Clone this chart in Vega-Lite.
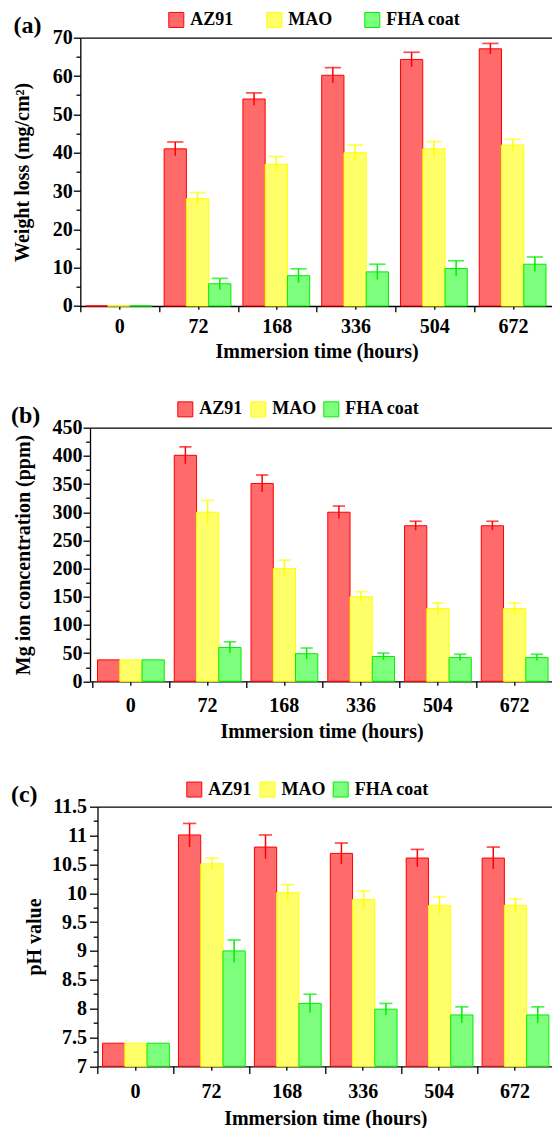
{
  "$schema": "https://vega.github.io/schema/vega-lite/v6.json",
  "padding": {"left": 10.3, "top": 10.7, "right": 0, "bottom": 0},
  "spacing": 38,
  "background": "white",
  "datasets": {
    "a": [
      {"time": 0, "series": "AZ91", "value": 0, "lo": null, "hi": null},
      {"time": 0, "series": "MAO", "value": 0, "lo": null, "hi": null},
      {"time": 0, "series": "FHA coat", "value": 0, "lo": null, "hi": null},
      {"time": 72, "series": "AZ91", "value": 41, "lo": 39.2, "hi": 42.8},
      {"time": 72, "series": "MAO", "value": 28, "lo": 26.4, "hi": 29.6},
      {"time": 72, "series": "FHA coat", "value": 5.8, "lo": 4.3, "hi": 7.2},
      {"time": 168, "series": "AZ91", "value": 54, "lo": 52.4, "hi": 55.6},
      {"time": 168, "series": "MAO", "value": 37, "lo": 35, "hi": 39},
      {"time": 168, "series": "FHA coat", "value": 7.9, "lo": 6.1, "hi": 9.7},
      {"time": 336, "series": "AZ91", "value": 60.2, "lo": 58.2, "hi": 62.2},
      {"time": 336, "series": "MAO", "value": 40, "lo": 38, "hi": 42},
      {"time": 336, "series": "FHA coat", "value": 8.9, "lo": 6.9, "hi": 10.9},
      {"time": 504, "series": "AZ91", "value": 64.3, "lo": 62.4, "hi": 66.2},
      {"time": 504, "series": "MAO", "value": 41, "lo": 39.1, "hi": 42.9},
      {"time": 504, "series": "FHA coat", "value": 9.8, "lo": 7.8, "hi": 11.8},
      {"time": 672, "series": "AZ91", "value": 67.1, "lo": 65.7, "hi": 68.5},
      {"time": 672, "series": "MAO", "value": 42, "lo": 40.5, "hi": 43.5},
      {"time": 672, "series": "FHA coat", "value": 10.9, "lo": 9, "hi": 12.8}
    ],
    "b": [
      {"time": 0, "series": "AZ91", "value": 38, "lo": null, "hi": null},
      {"time": 0, "series": "MAO", "value": 38, "lo": null, "hi": null},
      {"time": 0, "series": "FHA coat", "value": 38, "lo": null, "hi": null},
      {"time": 72, "series": "AZ91", "value": 401, "lo": 386, "hi": 416},
      {"time": 72, "series": "MAO", "value": 300, "lo": 280, "hi": 321},
      {"time": 72, "series": "FHA coat", "value": 60, "lo": 50, "hi": 70},
      {"time": 168, "series": "AZ91", "value": 351, "lo": 336, "hi": 366},
      {"time": 168, "series": "MAO", "value": 200, "lo": 185, "hi": 215},
      {"time": 168, "series": "FHA coat", "value": 49, "lo": 39, "hi": 59},
      {"time": 336, "series": "AZ91", "value": 300, "lo": 289, "hi": 311},
      {"time": 336, "series": "MAO", "value": 150, "lo": 142, "hi": 159},
      {"time": 336, "series": "FHA coat", "value": 44, "lo": 38, "hi": 50},
      {"time": 504, "series": "AZ91", "value": 276, "lo": 268, "hi": 284},
      {"time": 504, "series": "MAO", "value": 129, "lo": 118, "hi": 139},
      {"time": 504, "series": "FHA coat", "value": 42, "lo": 37, "hi": 48},
      {"time": 672, "series": "AZ91", "value": 276, "lo": 268, "hi": 284},
      {"time": 672, "series": "MAO", "value": 129, "lo": 118, "hi": 139},
      {"time": 672, "series": "FHA coat", "value": 42, "lo": 37, "hi": 48}
    ],
    "c": [
      {"time": 0, "series": "AZ91", "value": 7.4, "lo": null, "hi": null},
      {"time": 0, "series": "MAO", "value": 7.4, "lo": null, "hi": null},
      {"time": 0, "series": "FHA coat", "value": 7.4, "lo": null, "hi": null},
      {"time": 72, "series": "AZ91", "value": 11.01, "lo": 10.8, "hi": 11.21},
      {"time": 72, "series": "MAO", "value": 10.51, "lo": 10.41, "hi": 10.61},
      {"time": 72, "series": "FHA coat", "value": 9.0, "lo": 8.8, "hi": 9.19},
      {"time": 168, "series": "AZ91", "value": 10.8, "lo": 10.6, "hi": 11.01},
      {"time": 168, "series": "MAO", "value": 10.01, "lo": 9.87, "hi": 10.15},
      {"time": 168, "series": "FHA coat", "value": 8.09, "lo": 7.93, "hi": 8.25},
      {"time": 336, "series": "AZ91", "value": 10.69, "lo": 10.51, "hi": 10.87},
      {"time": 336, "series": "MAO", "value": 9.89, "lo": 9.74, "hi": 10.04},
      {"time": 336, "series": "FHA coat", "value": 7.99, "lo": 7.89, "hi": 8.09},
      {"time": 504, "series": "AZ91", "value": 10.61, "lo": 10.46, "hi": 10.76},
      {"time": 504, "series": "MAO", "value": 9.79, "lo": 9.64, "hi": 9.94},
      {"time": 504, "series": "FHA coat", "value": 7.89, "lo": 7.75, "hi": 8.03},
      {"time": 672, "series": "AZ91", "value": 10.61, "lo": 10.42, "hi": 10.8},
      {"time": 672, "series": "MAO", "value": 9.79, "lo": 9.68, "hi": 9.9},
      {"time": 672, "series": "FHA coat", "value": 7.89, "lo": 7.75, "hi": 8.03}
    ]
  },
  "vconcat": [
    {
      "width": 472.7,
      "height": 268.3,
      "view": {"stroke": null},
      "title": {"text": "(a)", "offset": -27.3, "dx": 0.7},
      "data": {"name": "a"},
      "layer": [
        {
          "mark": {"type": "bar", "strokeWidth": 1},
          "encoding": {
            "x": {"field": "time", "type": "ordinal", "scale": {"paddingInner": 0, "paddingOuter": 0}, "axis": {"tickBand": "center", "tickSize": 3.3, "labelPadding": 7, "labelAngle": 0, "title": "Immersion time (hours)", "titlePadding": 5}},
            "xOffset": {"field": "series", "type": "nominal", "sort": ["AZ91", "MAO", "FHA coat"], "scale": {"domain": ["AZ91", "MAO", "FHA coat"], "paddingInner": 0, "paddingOuter": 0.27, "align": 0.42}},
            "y": {"field": "value", "type": "quantitative", "title": "Weight loss (mg/cm²)", "scale": {"domain": [0, 70], "nice": false}, "axis": {"values": [0, 5, 10, 15, 20, 25, 30, 35, 40, 45, 50, 55, 60, 65, 70], "labelOverlap": false, "labelExpr": "datum.value % 10 === 0 ? '' + datum.value : ''", "tickSize": {"condition": {"test": "datum.value % 10 === 0", "value": 7}, "value": 4.3}, "labelPadding": 1, "titlePadding": 19.6}},
            "fill": {"field": "series", "type": "nominal", "scale": {"domain": ["AZ91", "MAO", "FHA coat"], "range": ["#ff6a6a", "#ffff6a", "#7dff7d"]}, "legend": {"title": null, "legendX": 87, "legendY": -27, "columnPadding": 30}},
            "stroke": {"field": "series", "type": "nominal", "scale": {"domain": ["AZ91", "MAO", "FHA coat"], "range": ["#ff0000", "#ffff00", "#00ee00"]}, "legend": {"title": null, "legendX": 87, "legendY": -27, "columnPadding": 30}}
          }
        },
        {
          "mark": {"type": "rule", "strokeWidth": 1.5},
          "encoding": {
            "x": {"field": "time", "type": "ordinal", "scale": {"paddingInner": 0, "paddingOuter": 0}, "axis": {"orient": "bottom", "tickBand": "extent", "tickSize": 5.7, "labels": false, "title": null, "domain": false}},
            "xOffset": {"field": "series", "type": "nominal", "sort": ["AZ91", "MAO", "FHA coat"], "scale": {"domain": ["AZ91", "MAO", "FHA coat"], "paddingInner": 0, "paddingOuter": 0.27, "align": 0.42}},
            "y": {"field": "lo", "type": "quantitative", "title": "Weight loss (mg/cm²)", "axis": {"values": [0, 5, 10, 15, 20, 25, 30, 35, 40, 45, 50, 55, 60, 65, 70], "labelOverlap": false, "labelExpr": "datum.value % 10 === 0 ? '' + datum.value : ''", "tickSize": {"condition": {"test": "datum.value % 10 === 0", "value": 7}, "value": 4.3}, "labelPadding": 1, "titlePadding": 19.6}},
            "y2": {"field": "hi"},
            "stroke": {"field": "series", "type": "nominal", "scale": {"domain": ["AZ91", "MAO", "FHA coat"], "range": ["#ff0000", "#ffff00", "#00ee00"]}, "legend": {"title": null, "legendX": 87, "legendY": -27, "columnPadding": 30}}
          }
        },
        {
          "mark": {"type": "tick", "size": 15, "thickness": 0.5, "filled": false, "strokeWidth": 1.2},
          "encoding": {
            "x": {"field": "time", "type": "ordinal", "scale": {"paddingInner": 0, "paddingOuter": 0}, "axis": {"orient": "top", "ticks": false, "labels": false, "title": null, "domain": true}},
            "xOffset": {"field": "series", "type": "nominal", "sort": ["AZ91", "MAO", "FHA coat"], "scale": {"domain": ["AZ91", "MAO", "FHA coat"], "paddingInner": 0, "paddingOuter": 0.27, "align": 0.42}},
            "y": {"field": "hi", "type": "quantitative", "title": "Weight loss (mg/cm²)", "axis": {"values": [0, 5, 10, 15, 20, 25, 30, 35, 40, 45, 50, 55, 60, 65, 70], "labelOverlap": false, "labelExpr": "datum.value % 10 === 0 ? '' + datum.value : ''", "tickSize": {"condition": {"test": "datum.value % 10 === 0", "value": 7}, "value": 4.3}, "labelPadding": 1, "titlePadding": 19.6}},
            "stroke": {"field": "series", "type": "nominal", "scale": {"domain": ["AZ91", "MAO", "FHA coat"], "range": ["#ff0000", "#ffff00", "#00ee00"]}, "legend": {"title": null, "legendX": 87, "legendY": -27, "columnPadding": 30}}
          }
        }
      ],
      "resolve": {"axis": {"x": "independent"}}
    },
    {
      "width": 472.7,
      "height": 253.6,
      "view": {"stroke": null},
      "title": {"text": "(b)", "offset": -27.6, "dx": -2.2},
      "data": {"name": "b"},
      "layer": [
        {
          "mark": {"type": "bar", "strokeWidth": 1},
          "encoding": {
            "x": {"field": "time", "type": "ordinal", "scale": {"range": [9.7, 472.7], "paddingInner": 0, "paddingOuter": 0.016, "align": 1}, "axis": {"tickBand": "center", "tickSize": 4, "labelPadding": 10, "labelAngle": 0, "title": "Immersion time (hours)", "titlePadding": 6}},
            "xOffset": {"field": "series", "type": "nominal", "sort": ["AZ91", "MAO", "FHA coat"], "scale": {"domain": ["AZ91", "MAO", "FHA coat"], "paddingInner": 0, "paddingOuter": 0.225, "align": 0.42}},
            "y": {"field": "value", "type": "quantitative", "title": "Mg ion concentration (ppm)", "scale": {"domain": [0, 450], "nice": false}, "axis": {"offset": -9.7, "values": [0, 25, 50, 75, 100, 125, 150, 175, 200, 225, 250, 275, 300, 325, 350, 375, 400, 425, 450], "labelOverlap": false, "labelExpr": "datum.value % 50 === 0 ? '' + datum.value : ''", "tickSize": {"condition": {"test": "datum.value % 50 === 0", "value": 7}, "value": 4.3}, "labelPadding": 1, "titlePadding": 18.9}},
            "fill": {"field": "series", "type": "nominal", "scale": {"domain": ["AZ91", "MAO", "FHA coat"], "range": ["#ff6a6a", "#ffff6a", "#7dff7d"]}, "legend": {"title": null, "legendX": 96, "legendY": -27.6, "columnPadding": 5}},
            "stroke": {"field": "series", "type": "nominal", "scale": {"domain": ["AZ91", "MAO", "FHA coat"], "range": ["#ff0000", "#ffff00", "#00ee00"]}, "legend": {"title": null, "legendX": 96, "legendY": -27.6, "columnPadding": 5}}
          }
        },
        {
          "mark": {"type": "rule", "strokeWidth": 1.5},
          "encoding": {
            "x": {"field": "time", "type": "ordinal", "scale": {"range": [9.7, 472.7], "paddingInner": 0, "paddingOuter": 0.016, "align": 1}, "axis": {"orient": "bottom", "tickBand": "extent", "tickSize": 6.3, "labels": false, "title": null, "domain": false}},
            "xOffset": {"field": "series", "type": "nominal", "sort": ["AZ91", "MAO", "FHA coat"], "scale": {"domain": ["AZ91", "MAO", "FHA coat"], "paddingInner": 0, "paddingOuter": 0.225, "align": 0.42}},
            "y": {"field": "lo", "type": "quantitative", "title": "Mg ion concentration (ppm)", "axis": {"offset": -9.7, "values": [0, 25, 50, 75, 100, 125, 150, 175, 200, 225, 250, 275, 300, 325, 350, 375, 400, 425, 450], "labelOverlap": false, "labelExpr": "datum.value % 50 === 0 ? '' + datum.value : ''", "tickSize": {"condition": {"test": "datum.value % 50 === 0", "value": 7}, "value": 4.3}, "labelPadding": 1, "titlePadding": 18.9}},
            "y2": {"field": "hi"},
            "stroke": {"field": "series", "type": "nominal", "scale": {"domain": ["AZ91", "MAO", "FHA coat"], "range": ["#ff0000", "#ffff00", "#00ee00"]}, "legend": {"title": null, "legendX": 96, "legendY": -27.6, "columnPadding": 5}}
          }
        },
        {
          "mark": {"type": "tick", "size": 11, "thickness": 0.5, "filled": false, "strokeWidth": 1.2},
          "encoding": {
            "x": {"field": "time", "type": "ordinal", "scale": {"range": [9.7, 472.7], "paddingInner": 0, "paddingOuter": 0.016, "align": 1}, "axis": {"orient": "top", "ticks": false, "labels": false, "title": null, "domain": true}},
            "xOffset": {"field": "series", "type": "nominal", "sort": ["AZ91", "MAO", "FHA coat"], "scale": {"domain": ["AZ91", "MAO", "FHA coat"], "paddingInner": 0, "paddingOuter": 0.225, "align": 0.42}},
            "y": {"field": "hi", "type": "quantitative", "title": "Mg ion concentration (ppm)", "axis": {"offset": -9.7, "values": [0, 25, 50, 75, 100, 125, 150, 175, 200, 225, 250, 275, 300, 325, 350, 375, 400, 425, 450], "labelOverlap": false, "labelExpr": "datum.value % 50 === 0 ? '' + datum.value : ''", "tickSize": {"condition": {"test": "datum.value % 50 === 0", "value": 7}, "value": 4.3}, "labelPadding": 1, "titlePadding": 18.9}},
            "stroke": {"field": "series", "type": "nominal", "scale": {"domain": ["AZ91", "MAO", "FHA coat"], "range": ["#ff0000", "#ffff00", "#00ee00"]}, "legend": {"title": null, "legendX": 96, "legendY": -27.6, "columnPadding": 5}}
          }
        }
      ],
      "resolve": {"axis": {"x": "independent"}}
    },
    {
      "width": 472.7,
      "height": 259.6,
      "view": {"stroke": null},
      "title": {"text": "(c)", "offset": -26.4, "dx": -13.1},
      "data": {"name": "c"},
      "layer": [
        {
          "mark": {"type": "bar", "strokeWidth": 1},
          "encoding": {
            "x": {"field": "time", "type": "ordinal", "scale": {"range": [17.2, 472.7], "paddingInner": 0, "paddingOuter": 0}, "axis": {"tickBand": "center", "tickSize": 4, "labelPadding": 11, "labelAngle": 0, "title": "Immersion time (hours)", "titlePadding": 7}},
            "xOffset": {"field": "series", "type": "nominal", "sort": ["AZ91", "MAO", "FHA coat"], "scale": {"domain": ["AZ91", "MAO", "FHA coat"], "paddingInner": 0, "paddingOuter": 0.7, "align": 0.52}},
            "y": {"field": "value", "type": "quantitative", "title": "pH value", "scale": {"domain": [7, 11.5], "nice": false, "zero": false}, "axis": {"offset": -17.2, "values": [7, 7.25, 7.5, 7.75, 8, 8.25, 8.5, 8.75, 9, 9.25, 9.5, 9.75, 10, 10.25, 10.5, 10.75, 11, 11.25, 11.5], "labelOverlap": false, "labelExpr": "datum.value % 0.5 === 0 ? '' + datum.value : ''", "tickSize": {"condition": {"test": "datum.value % 0.5 === 0", "value": 8}, "value": 4.3}, "labelPadding": 3, "titlePadding": 7.5}},
            "y2": {"datum": 7},
            "fill": {"field": "series", "type": "nominal", "scale": {"domain": ["AZ91", "MAO", "FHA coat"], "range": ["#ff6a6a", "#ffff6a", "#7dff7d"]}, "legend": {"title": null, "legendX": 105, "legendY": -26.4, "columnPadding": 5.2}},
            "stroke": {"field": "series", "type": "nominal", "scale": {"domain": ["AZ91", "MAO", "FHA coat"], "range": ["#ff0000", "#ffff00", "#00ee00"]}, "legend": {"title": null, "legendX": 105, "legendY": -26.4, "columnPadding": 5.2}}
          }
        },
        {
          "mark": {"type": "rule", "strokeWidth": 1.5},
          "encoding": {
            "x": {"field": "time", "type": "ordinal", "scale": {"range": [17.2, 472.7], "paddingInner": 0, "paddingOuter": 0}, "axis": {"orient": "bottom", "tickBand": "extent", "tickSize": 7.3, "labels": false, "title": null, "domain": false}},
            "xOffset": {"field": "series", "type": "nominal", "sort": ["AZ91", "MAO", "FHA coat"], "scale": {"domain": ["AZ91", "MAO", "FHA coat"], "paddingInner": 0, "paddingOuter": 0.7, "align": 0.52}},
            "y": {"field": "lo", "type": "quantitative", "title": "pH value", "scale": {"domain": [7, 11.5], "nice": false, "zero": false}, "axis": {"offset": -17.2, "values": [7, 7.25, 7.5, 7.75, 8, 8.25, 8.5, 8.75, 9, 9.25, 9.5, 9.75, 10, 10.25, 10.5, 10.75, 11, 11.25, 11.5], "labelOverlap": false, "labelExpr": "datum.value % 0.5 === 0 ? '' + datum.value : ''", "tickSize": {"condition": {"test": "datum.value % 0.5 === 0", "value": 8}, "value": 4.3}, "labelPadding": 3, "titlePadding": 7.5}},
            "y2": {"field": "hi"},
            "stroke": {"field": "series", "type": "nominal", "scale": {"domain": ["AZ91", "MAO", "FHA coat"], "range": ["#ff0000", "#ffff00", "#00ee00"]}, "legend": {"title": null, "legendX": 105, "legendY": -26.4, "columnPadding": 5.2}}
          }
        },
        {
          "mark": {"type": "tick", "size": 12, "thickness": 0.5, "filled": false, "strokeWidth": 1.2},
          "encoding": {
            "x": {"field": "time", "type": "ordinal", "scale": {"range": [17.2, 472.7], "paddingInner": 0, "paddingOuter": 0}, "axis": {"orient": "top", "ticks": false, "labels": false, "title": null, "domain": true}},
            "xOffset": {"field": "series", "type": "nominal", "sort": ["AZ91", "MAO", "FHA coat"], "scale": {"domain": ["AZ91", "MAO", "FHA coat"], "paddingInner": 0, "paddingOuter": 0.7, "align": 0.52}},
            "y": {"field": "hi", "type": "quantitative", "title": "pH value", "scale": {"domain": [7, 11.5], "nice": false, "zero": false}, "axis": {"offset": -17.2, "values": [7, 7.25, 7.5, 7.75, 8, 8.25, 8.5, 8.75, 9, 9.25, 9.5, 9.75, 10, 10.25, 10.5, 10.75, 11, 11.25, 11.5], "labelOverlap": false, "labelExpr": "datum.value % 0.5 === 0 ? '' + datum.value : ''", "tickSize": {"condition": {"test": "datum.value % 0.5 === 0", "value": 8}, "value": 4.3}, "labelPadding": 3, "titlePadding": 7.5}},
            "stroke": {"field": "series", "type": "nominal", "scale": {"domain": ["AZ91", "MAO", "FHA coat"], "range": ["#ff0000", "#ffff00", "#00ee00"]}, "legend": {"title": null, "legendX": 105, "legendY": -26.4, "columnPadding": 5.2}}
          }
        }
      ],
      "resolve": {"axis": {"x": "independent"}}
    }
  ],
  "resolve": {"legend": {"fill": "independent", "stroke": "independent"}, "scale": {"fill": "independent", "stroke": "independent"}},
  "config": {
    "font": "Liberation Serif",
    "axis": {"labelOverlap": false, "labelFont": "Liberation Serif", "labelFontSize": 20, "labelFontWeight": "bold", "labelColor": "black", "titleFont": "Liberation Serif", "titleFontSize": 20, "titleFontWeight": "bold", "titleColor": "black", "domainColor": "black", "domainWidth": 1.3, "tickColor": "black", "tickWidth": 1.3, "grid": false},
    "legend": {"orient": "none", "direction": "horizontal", "symbolType": "square", "symbolSize": 225, "symbolStrokeWidth": 1, "labelFont": "Liberation Serif", "labelFontSize": 18, "labelFontWeight": "bold", "labelColor": "black", "labelOffset": 5, "padding": 0},
    "title": {"font": "Liberation Serif", "fontSize": 24, "fontWeight": "bold", "color": "black", "anchor": "start", "frame": "bounds", "baseline": "bottom"}
  }
}
